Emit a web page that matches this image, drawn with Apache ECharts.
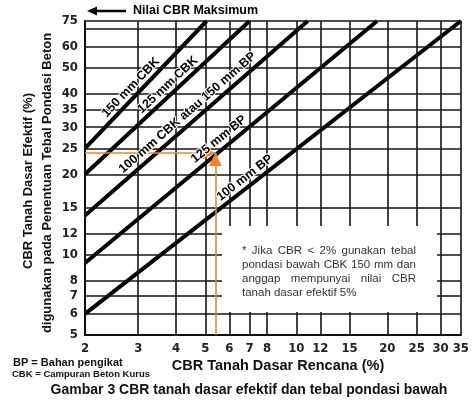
<!DOCTYPE html>
<html><head><meta charset="utf-8">
<script src="https://cdn.jsdelivr.net/npm/echarts@6/dist/echarts.min.js"></script>
<style>html,body{margin:0;padding:0;background:#fff}#c{width:472px;height:400px}</style>
</head><body><div id="c"></div>
<script>
// ---- data ----
const xTicks = [2, 3, 4, 5, 6, 7, 8, 10, 12, 15, 20, 25, 30, 35];
const yTicks = [5, 6, 7, 8, 10, 12, 15, 20, 25, 30, 35, 40, 50, 60, 75];
const yGridExtra = [70];
const lineNames = ['150 mm CBK', '125 mm CBK', '100 mm CBK atau 150 mm BP', '125 mm BP', '100 mm BP'];
const lineStart = [[2, 25], [2, 20], [2, 14], [2, 9.3], [2, 6]];
const lineEnd = [[5.05, 75], [7, 75], [10.9, 75], [18.5, 75], [35, 75]];
const designCBR = 5.4;
const effectiveCBR = 24;
const noteLines = ['* Jika CBR < 2% gunakan tebal', 'pondasi bawah CBK 150 mm dan', 'anggap mempunyai nilai CBR', 'tanah dasar efektif 5%'];

// ---- styles ----
const labelT = [0.43, 0.54, 0.49, 0.48, 0.44];
const labelOff = [9, 9, 10, 10, 9];
const BOLD = "'Liberation Sans', Arial, sans-serif";
const TICKF = "'DejaVu Sans Condensed', 'DejaVu Sans', sans-serif";

const chart = echarts.init(document.getElementById('c'), null, {renderer: 'canvas'});

const gridMarks = [];
xTicks.forEach(v => gridMarks.push({xAxis: v}));
yTicks.concat(yGridExtra).forEach(v => gridMarks.push({yAxis: v}));

const series = [{
  type: 'line', data: [], z: 1, silent: true,
  markLine: {
    silent: true, symbol: ['none', 'none'], animation: false,
    label: {show: false},
    lineStyle: {color: '#151515', width: 1.6, type: 'solid'},
    emphasis: {disabled: true},
    data: gridMarks
  }
}];
lineNames.forEach((n, i) => {
  series.push({
    type: 'line', name: n, z: 3, silent: true, symbol: 'none',
    lineStyle: {color: '#000', width: 4},
    data: [lineStart[i], lineEnd[i]]
  });
});
series.push({
  type: 'line', data: [], z: 4, silent: true,
  markLine: {
    silent: true, animation: false, symbol: ['none', 'triangle'], symbolSize: 13,
    symbolOffset: [[0, 0], [0, 6.5]],
    label: {show: false},
    lineStyle: {color: '#f0842a', width: 1.6, type: 'solid'},
    itemStyle: {color: '#f0842a'},
    emphasis: {disabled: true},
    data: [
      [{coord: [2, effectiveCBR]}, {coord: [designCBR, effectiveCBR]}],
      [{coord: [designCBR, 5]}, {coord: [designCBR, effectiveCBR]}]
    ]
  }
});

chart.setOption({
  animation: false,
  backgroundColor: '#fff',
  grid: {left: 85, right: 9, top: 21, bottom: 65},
  xAxis: {
    type: 'log', logBase: 10, min: 2, max: 35,
    axisLine: {show: true, lineStyle: {color: '#000', width: 2}},
    axisTick: {show: false},
    splitLine: {show: false},
    axisLabel: {customValues: xTicks, color: '#222', fontFamily: TICKF, fontWeight: 'bold', fontSize: 13, margin: 7, showMinLabel: true, showMaxLabel: true, hideOverlap: false}
  },
  yAxis: {
    type: 'log', logBase: 10, min: 5, max: 75,
    axisLine: {show: true, lineStyle: {color: '#000', width: 2}},
    axisTick: {show: false},
    splitLine: {show: false},
    axisLabel: {customValues: yTicks, color: '#222', fontFamily: TICKF, fontWeight: 'bold', fontSize: 13, margin: 7, showMinLabel: true, showMaxLabel: true, hideOverlap: false}
  },
  series: series
});

// ---- text overlays ----
const g = [];
g.push({type: 'rect', z: 50, shape: {x: 222, y: 226, width: 215, height: 86}, style: {fill: '#fff'}});

lineNames.forEach((n, i) => {
  const p1 = chart.convertToPixel({gridIndex: 0}, lineStart[i]);
  const p2 = chart.convertToPixel({gridIndex: 0}, lineEnd[i]);
  const dx = p2[0] - p1[0], dy = p2[1] - p1[1];
  const len = Math.hypot(dx, dy);
  const ux = dx / len, uy = dy / len;
  const cx = p1[0] + dx * labelT[i] + uy * labelOff[i];
  const cy = p1[1] + dy * labelT[i] - ux * labelOff[i];
  g.push({
    type: 'text', z: 60, x: cx, y: cy, rotation: Math.atan2(-dy, dx),
    style: {text: n, fill: '#000', font: 'bold 12.5px ' + BOLD, align: 'center', verticalAlign: 'middle', stroke: '#fff', lineWidth: 2}
  });
});

// title arrow
g.push({type: 'line', z: 60, shape: {x1: 94, y1: 11, x2: 126, y2: 11}, style: {stroke: '#000', lineWidth: 2.5}});
g.push({type: 'polygon', z: 60, shape: {points: [[87, 11], [97, 6.5], [97, 15.5]]}, style: {fill: '#000'}});
g.push({type: 'text', z: 60, x: 133, y: 11, style: {text: 'Nilai CBR Maksimum', font: 'bold 12.5px ' + BOLD, fill: '#000', verticalAlign: 'middle'}});

// y axis names
g.push({type: 'text', z: 60, x: 28, y: 181, rotation: Math.PI / 2, style: {text: 'CBR Tanah Dasar Efektif (%)', font: 'bold 13px ' + BOLD, fill: '#111', align: 'center', verticalAlign: 'middle'}});
g.push({type: 'text', z: 60, x: 47, y: 183, rotation: Math.PI / 2, style: {text: 'digunakan pada Penentuan Tebal Pondasi Beton', font: 'bold 13px ' + BOLD, fill: '#111', align: 'center', verticalAlign: 'middle'}});
// x axis name
g.push({type: 'text', z: 60, x: 278, y: 366, style: {text: 'CBR Tanah Dasar Rencana (%)', font: 'bold 14.5px ' + BOLD, fill: '#111', align: 'center', verticalAlign: 'middle'}});
// legend notes
g.push({type: 'text', z: 60, x: 13, y: 363, style: {text: 'BP = Bahan pengikat', font: 'bold 11px ' + BOLD, fill: '#111', verticalAlign: 'middle'}});
g.push({type: 'text', z: 60, x: 12, y: 374, style: {text: 'CBK = Campuran Beton Kurus', font: 'bold 9.5px ' + BOLD, fill: '#111', verticalAlign: 'middle'}});
// caption
g.push({type: 'text', z: 60, x: 249, y: 390, style: {text: 'Gambar 3 CBR tanah dasar efektif dan tebal pondasi bawah', font: 'bold 14px ' + BOLD, fill: '#111', align: 'center', verticalAlign: 'middle'}});

// justified note
const noteFont = '11.5px ' + BOLD;
const mctx = document.createElement('canvas').getContext('2d');
mctx.font = noteFont;
const nLeft = 242, nRight = 416, nTop = 251, nStep = 14;
noteLines.forEach((ln, k) => {
  const y = nTop + k * nStep;
  if (k === noteLines.length - 1) {
    g.push({type: 'text', z: 60, x: nLeft, y: y, style: {text: ln, font: noteFont, fill: '#333', verticalAlign: 'middle'}});
    return;
  }
  const words = ln.split(' ');
  const widths = words.map(w => mctx.measureText(w).width);
  const total = widths.reduce((a, b) => a + b, 0);
  const gap = (nRight - nLeft - total) / (words.length - 1);
  let x = nLeft;
  words.forEach((w, j) => {
    g.push({type: 'text', z: 60, x: x, y: y, style: {text: w, font: noteFont, fill: '#333', verticalAlign: 'middle'}});
    x += widths[j] + gap;
  });
});

chart.setOption({graphic: {elements: g}});
</script>
</body></html>
